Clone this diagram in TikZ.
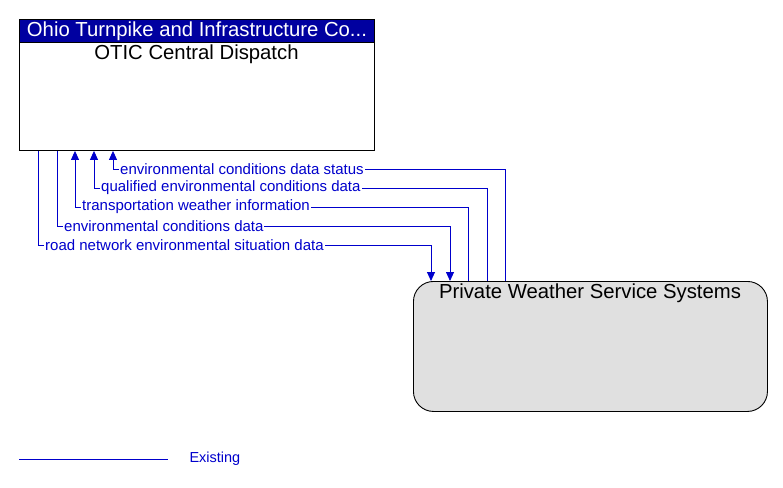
\documentclass[tikz,border=0pt]{standalone}
\usepackage{fontspec}
\setmainfont{Liberation Sans}
\usetikzlibrary{arrows.meta,positioning}
\definecolor{hdrblue}{RGB}{0,0,160}
\definecolor{flowblue}{RGB}{0,0,204}
\definecolor{boxgray}{RGB}{224,224,224}
\tikzset{
  flow/.style={draw=flowblue, line width=0.9pt},
  tipin/.style={-{Triangle[width=8pt,length=9pt]}},
  tipout/.style={{Triangle[width=8pt,length=9pt]}-},
  flowlabel/.style={anchor=west, fill=white, inner sep=1pt, text=flowblue, font=\fontsize{15}{17}\selectfont},
  titlefont/.style={font=\fontsize{20.3}{23}\selectfont},
}
\begin{document}
\begin{tikzpicture}[x=1pt,y=-1pt]
\useasboundingbox (0,0) rectangle (783,487);
% OTIC
\node[draw, line width=0.9pt, anchor=north west, minimum width=355pt, minimum height=131pt, inner sep=0pt] (otic) at (19,19) {};
\node[fill=hdrblue, draw, line width=0.9pt, anchor=north west, minimum width=355pt, minimum height=23pt, inner sep=0pt, text=white, titlefont] (otichdr) at (19,19) {Ohio Turnpike and Infrastructure Co...};
\node[titlefont, anchor=center] (otictitle) at (196.5,54) {OTIC Central Dispatch};
% PWS
\node[draw, line width=0.9pt, fill=boxgray, rounded corners=20pt, anchor=north west, minimum width=354pt, minimum height=130pt, inner sep=0pt] (pws) at (413,281) {};
\node[titlefont, anchor=center] (pwstitle) at (590,293) {Private Weather Service Systems};
% flows
\coordinate (c1) at (113,169);
\coordinate (c2) at (94,188);
\coordinate (c3) at (75,207);
\coordinate (c4) at (57,226);
\coordinate (c5) at (38,245);
\draw[flow, tipout] (c1 |- otic.south) -- (c1) -- (505,169) -- (505,0 |- pws.north);
\draw[flow, tipout] (c2 |- otic.south) -- (c2) -- (487,188) -- (487,0 |- pws.north);
\draw[flow, tipout] (c3 |- otic.south) -- (c3) -- (468,207) -- (468,0 |- pws.north);
\draw[flow, tipin] (c4 |- otic.south) -- (c4) -- (450,226) -- (450,0 |- pws.north);
\draw[flow, tipin] (c5 |- otic.south) -- (c5) -- (431,245) -- (431,0 |- pws.north);
\node[flowlabel, xshift=6pt] (l1) at (c1) {environmental conditions data status};
\node[flowlabel, xshift=6pt] (l2) at (c2) {qualified environmental conditions data};
\node[flowlabel, xshift=6pt] (l3) at (c3) {transportation weather information};
\node[flowlabel, xshift=6pt] (l4) at (c4) {environmental conditions data};
\node[flowlabel, xshift=6pt] (l5) at (c5) {road network environmental situation data};
% legend
\coordinate (lg1) at (19,459);
\coordinate (lg2) at (168,459);
\draw[flow] (lg1) -- (lg2);
\node[anchor=west, text=flowblue, font=\fontsize{14.5}{17}\selectfont] (lgtext) at (186,459) {Existing};
\end{tikzpicture}
\end{document}
